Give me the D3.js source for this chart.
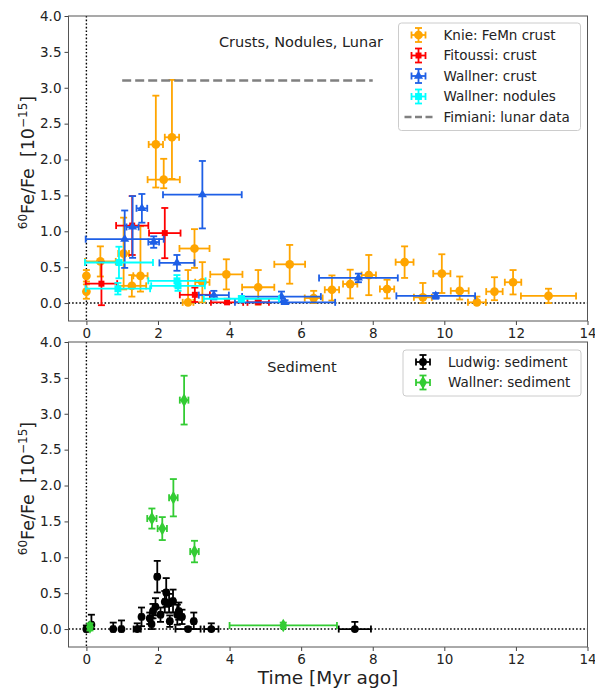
<!DOCTYPE html>
<html>
<head>
<meta charset="utf-8">
<script src="https://cdn.jsdelivr.net/npm/d3@7"></script>
<style>
  body { margin: 0; background: #fff; }
  svg text { font-family: "DejaVu Sans", sans-serif; }
</style>
</head>
<body>
<svg id="chart" width="595" height="688"></svg>
<script>
// tick values
const xTicks = [0, 2, 4, 6, 8, 10, 12, 14];
const yTicks = [0, 0.5, 1, 1.5, 2, 2.5, 3, 3.5, 4];

// rows: [time, ratio, timeErr, ratioErr(lower), ratioErr(upper, optional)]
const knie = [
  [0.0, 0.38, 0.03, 0.08], [0.0, 0.16, 0.03, 0.1], [0.39, 0.58, 0.43, 0.21],
  [1.04, 0.69, 0.15, 0.5], [1.27, 0.24, 0.4, 0.15], [1.51, 0.38, 0.2, 0.22, 0.69],
  [1.94, 2.21, 0.2, 0.6, 0.68], [2.16, 1.72, 0.45, 0.12, 0.29], [2.39, 2.31, 0.2, 0.58, 0.8],
  [2.84, 0.01, 0.15, 0.01, 0.45], [3.02, 0.76, 0.42, 0.27], [3.24, 0.29, 0.2, 0.28],
  [3.91, 0.40, 0.45, 0.21], [4.8, 0.22, 0.45, 0.24], [5.68, 0.54, 0.43, 0.27],
  [6.35, 0.07, 0.25, 0.07, 0.1], [6.86, 0.185, 0.2, 0.15, 0.2], [7.37, 0.265, 0.2, 0.2],
  [7.89, 0.39, 0.2, 0.28], [8.4, 0.195, 0.2, 0.13], [8.89, 0.57, 0.25, 0.22],
  [9.4, 0.08, 0.25, 0.08, 0.2], [9.93, 0.41, 0.24, 0.27], [10.43, 0.17, 0.25, 0.12, 0.2],
  [10.91, 0.01, 0.25, 0.01, 0.08], [11.4, 0.16, 0.23, 0.12, 0.2], [11.92, 0.29, 0.23, 0.17],
  [12.91, 0.10, 0.77, 0.1]
];
const fitoussi = [
  [0.42, 0.27, 0.44, 0.3], [1.28, 1.08, 0.45, 0.41], [2.19, 0.975, 0.44, 0.35],
  [3.03, 0.115, 0.42, 0.1], [3.93, 0.01, 0.45, 0.01, 0.05], [4.8, 0.01, 0.3, 0.01, 0.03]
];
const wallnerCrust = [
  [1.07, 0.89, 1.09, 0.4], [1.29, 1.06, 0.17, 0.43], [1.55, 1.32, 0.15, 0.2],
  [1.88, 0.85, 0.15, 0.08], [2.53, 0.56, 0.49, 0.11], [3.24, 1.51, 1.1, 0.47],
  [3.56, 0.11, 0.42, 0.06], [5.45, 0.09, 1.1, 0.07], [5.55, 0.01, 1.4, 0.01, 0.03],
  [7.6, 0.35, 1.1, 0.06], [9.76, 0.10, 1.1, 0.04]
];
const wallnerNodules = [
  [0.91, 0.565, 0.95, 0.22], [0.88, 0.20, 0.9, 0.08], [2.53, 0.31, 0.8, 0.08],
  [2.56, 0.24, 0.75, 0.07], [4.33, 0.06, 1.05, 0.04]
];
// Fimiani lunar: [from, to, value]
const fimiani = [1, 8, 3.1];

const ludwig = [
  [0.0, 0.0, 0.05, 0, 0.05], [0.14, 0.06, 0.05, 0.06, 0.14], [0.75, 0.0, 0.05, 0, 0.09],
  [0.98, 0.0, 0.05, 0, 0.12], [1.42, 0.0, 0.1, 0, 0.08], [1.54, 0.17, 0.05, 0.13],
  [1.77, 0.15, 0.05, 0.08], [1.82, 0.07, 0.05, 0.07, 0.08], [1.86, 0.25, 0.05, 0.1],
  [1.93, 0.31, 0.05, 0.12], [1.98, 0.73, 0.05, 0.22], [2.07, 0.2, 0.05, 0.1],
  [2.19, 0.38, 0.05, 0.15], [2.23, 0.51, 0.05, 0.2], [2.31, 0.36, 0.05, 0.13],
  [2.33, 0.11, 0.05, 0.08], [2.42, 0.39, 0.05, 0.16], [2.54, 0.2, 0.05, 0.14],
  [2.58, 0.25, 0.05, 0.12], [2.67, 0.17, 0.05, 0.1], [2.84, 0.0, 0.35, 0, 0.03],
  [3.0, 0.11, 0.05, 0.11, 0.12], [3.49, 0.0, 0.2, 0, 0.08], [7.5, 0.0, 0.45, 0, 0.1]
];
const wallnerSediment = [
  [0.1, 0.03, 0.05, 0.05], [1.83, 1.54, 0.13, 0.14], [2.12, 1.4, 0.13, 0.16],
  [2.43, 1.83, 0.12, 0.26], [2.73, 3.19, 0.12, 0.34], [3.02, 1.08, 0.12, 0.15],
  [5.5, 0.05, 1.5, 0.04]
];

const svg = d3.select('#chart');
const x = d3.scaleLinear().domain([-0.5, 14]).range([68.5, 587.5]);

const symbols = {
  circle: d3.symbol().type(d3.symbolCircle).size(60),
  square: d3.symbol().type(d3.symbolSquare).size(36),
  triangle: d3.symbol().type(d3.symbolTriangle).size(36),
  bigsquare: d3.symbol().type(d3.symbolSquare).size(48),
  diamond: d3.symbol().type(d3.symbolDiamond).size(54),
  smallcircle: d3.symbol().type(d3.symbolCircle).size(48)
};

function panel(top, bottom) {
  const y = d3.scaleLinear().domain([-0.25, 4]).range([bottom, top]);
  const g = svg.append('g');

  // reference lines at t=0 and ratio=0
  g.append('line').attr('x1', x(0)).attr('x2', x(0)).attr('y1', top).attr('y2', bottom)
    .attr('stroke', '#000').attr('stroke-width', 1.4).attr('stroke-dasharray', '1.6,2');
  g.append('line').attr('x1', x(-0.5)).attr('x2', x(14)).attr('y1', y(0)).attr('y2', y(0))
    .attr('stroke', '#000').attr('stroke-width', 1.4).attr('stroke-dasharray', '1.6,2');

  const xa = g.append('g').attr('transform', `translate(0,${bottom})`)
    .call(d3.axisBottom(x).tickValues(xTicks).tickSize(4).tickPadding(3));
  const ya = g.append('g').attr('transform', `translate(${x(-0.5)},0)`)
    .call(d3.axisLeft(y).tickValues(yTicks).tickFormat(d3.format('.1f')).tickSize(4).tickPadding(3));
  [xa, ya].forEach(a => {
    a.select('.domain').remove();
    a.selectAll('line').attr('stroke', '#444');
    a.selectAll('text').attr('font-size', 13.5).attr('fill', '#222');
  });
  g.append('rect').attr('x', x(-0.5)).attr('y', top)
    .attr('width', x(14) - x(-0.5)).attr('height', bottom - top)
    .attr('fill', 'none').attr('stroke', '#555').attr('stroke-width', 1);

  // y label
  const lab = g.append('text')
    .attr('transform', `translate(34,${(top + bottom) / 2 - 6}) rotate(-90)`)
    .attr('text-anchor', 'middle').attr('font-size', 17.5).attr('fill', '#222')
    .attr('xml:space', 'preserve');
  lab.append('tspan').attr('font-size', 12).attr('dy', -7).text('60');
  lab.append('tspan').attr('dy', 7).text('Fe/Fe\u00a0\u00a0[10');
  lab.append('tspan').attr('font-size', 12).attr('dy', -7).text('−15');
  lab.append('tspan').attr('dy', 7).text(']');
  return { g, y };
}

function errorbars(p, rows, color, shape) {
  const { g, y } = p;
  const cap = 3.5;
  const s = g.append('g');
  rows.forEach(d => {
    const lo = d[3], hi = d.length > 4 ? d[4] : d[3];
    const cx = x(d[0]), cy = y(d[1]);
    const x0 = x(d[0] - d[2]), x1 = x(d[0] + d[2]);
    const y0 = y(d[1] - lo), y1 = y(d[1] + hi);
    const e = s.append('g').attr('stroke', color).attr('stroke-width', 1.8);
    e.append('line').attr('x1', x0).attr('x2', x1).attr('y1', cy).attr('y2', cy);
    e.append('line').attr('x1', cx).attr('x2', cx).attr('y1', y0).attr('y2', y1);
    e.append('line').attr('x1', x0).attr('x2', x0).attr('y1', cy - cap).attr('y2', cy + cap);
    e.append('line').attr('x1', x1).attr('x2', x1).attr('y1', cy - cap).attr('y2', cy + cap);
    e.append('line').attr('x1', cx - cap).attr('x2', cx + cap).attr('y1', y0).attr('y2', y0);
    e.append('line').attr('x1', cx - cap).attr('x2', cx + cap).attr('y1', y1).attr('y2', y1);
    s.append('path').attr('d', symbols[shape]()).attr('fill', color)
      .attr('transform', `translate(${cx},${cy})`);
  });
}

function legend(g, left, top, width, items) {
  const h = items.length * 20.5 + 5;
  g.append('rect').attr('x', left).attr('y', top).attr('width', width).attr('height', h)
    .attr('rx', 3).attr('fill', '#fff').attr('fill-opacity', 0.85)
    .attr('stroke', '#ccc').attr('stroke-width', 1);
  items.forEach((it, i) => {
    const cy = top + 12 + i * 20.5;
    const mx = left + 20;
    const r = g.append('g');
    if (it.shape === 'dash') {
      r.append('line').attr('x1', mx - 14).attr('x2', mx + 14).attr('y1', cy).attr('y2', cy)
        .attr('stroke', it.color).attr('stroke-width', 2.5).attr('stroke-dasharray', '7,3.5');
    } else {
      const e = r.append('g').attr('stroke', it.color).attr('stroke-width', 1.8);
      e.append('line').attr('x1', mx - 7).attr('x2', mx + 7).attr('y1', cy).attr('y2', cy);
      e.append('line').attr('x1', mx).attr('x2', mx).attr('y1', cy - 7).attr('y2', cy + 7);
      e.append('line').attr('x1', mx - 7).attr('x2', mx - 7).attr('y1', cy - 3.5).attr('y2', cy + 3.5);
      e.append('line').attr('x1', mx + 7).attr('x2', mx + 7).attr('y1', cy - 3.5).attr('y2', cy + 3.5);
      e.append('line').attr('x1', mx - 3.5).attr('x2', mx + 3.5).attr('y1', cy - 7).attr('y2', cy - 7);
      e.append('line').attr('x1', mx - 3.5).attr('x2', mx + 3.5).attr('y1', cy + 7).attr('y2', cy + 7);
      r.append('path').attr('d', symbols[it.shape]()).attr('fill', it.color)
        .attr('transform', `translate(${mx},${cy})`);
    }
    r.append('text').attr('x', left + 45).attr('y', cy).attr('dy', '0.35em')
      .attr('font-size', 13.5).attr('fill', '#222').text(it.label);
  });
}

// top panel: crusts, nodules, lunar
const topP = panel(16, 321);
errorbars(topP, knie, '#ffa500', 'circle');
errorbars(topP, fitoussi, '#ff0000', 'square');
errorbars(topP, wallnerCrust, '#1e5fe6', 'triangle');
errorbars(topP, wallnerNodules, '#00ffff', 'bigsquare');
topP.g.append('line')
  .attr('x1', x(fimiani[0])).attr('x2', x(fimiani[1]))
  .attr('y1', topP.y(fimiani[2])).attr('y2', topP.y(fimiani[2]))
  .attr('stroke', '#808080').attr('stroke-width', 2.5).attr('stroke-dasharray', '9,4');
topP.g.append('text').attr('x', 301).attr('y', 47).attr('text-anchor', 'middle')
  .attr('font-size', 14.5).attr('fill', '#222').text('Crusts, Nodules, Lunar');
legend(topP.g, 398.5, 23, 182, [
  { label: 'Knie: FeMn crust', color: '#ffa500', shape: 'circle' },
  { label: 'Fitoussi: crust', color: '#ff0000', shape: 'square' },
  { label: 'Wallner: crust', color: '#1e5fe6', shape: 'triangle' },
  { label: 'Wallner: nodules', color: '#00ffff', shape: 'bigsquare' },
  { label: 'Fimiani: lunar data', color: '#808080', shape: 'dash' }
]);

// bottom panel: sediment
const botP = panel(342, 647);
errorbars(botP, ludwig, '#000000', 'smallcircle');
errorbars(botP, wallnerSediment, '#33cc33', 'diamond');
botP.g.append('text').attr('x', 302).attr('y', 372).attr('text-anchor', 'middle')
  .attr('font-size', 14.5).attr('fill', '#222').text('Sediment');
legend(botP.g, 403, 350, 178, [
  { label: 'Ludwig: sediment', color: '#000000', shape: 'smallcircle' },
  { label: 'Wallner: sediment', color: '#33cc33', shape: 'diamond' }
]);

svg.append('text').attr('x', 328).attr('y', 684).attr('text-anchor', 'middle')
  .attr('font-size', 18.5).attr('fill', '#222').text('Time [Myr ago]');
</script>
</body>
</html>
